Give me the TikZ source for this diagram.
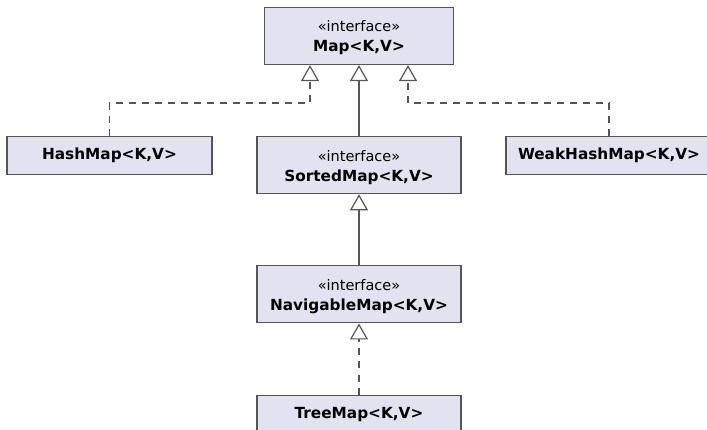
\documentclass[tikz,border=0pt]{standalone}
\usepackage{fontspec}
\setmainfont{DejaVu Sans}
\usetikzlibrary{arrows.meta, positioning}
\definecolor{boxfill}{HTML}{E2E2F0}
\definecolor{boxline}{HTML}{555555}
\newcommand{\iface}[1]{{\fontsize{14.5}{16}\selectfont\rule{0pt}{15pt}«interface»}\\[2pt]{\bfseries #1}}

\begin{document}
\begin{tikzpicture}[x=1pt,y=1pt,node distance=71pt,
    class node/.style={rectangle,draw=boxline,fill=boxfill,line width=1.2pt,minimum width=204pt,minimum height=38pt,inner sep=0pt,align=center,font=\fontsize{15.3}{18}\selectfont},
    iface node/.style={class node,minimum height=57pt},
    extends/.style={draw=boxline,line width=1.2pt,-{Triangle[open,length=16pt,width=18pt]}},
    implements/.style={extends,dash pattern=on 7pt off 6pt}]

    \useasboundingbox (0,0) rectangle (707,-430);

    \node[iface node, minimum width=189pt] (map) at (359,-36) {\iface{Map<K,V>}};
    \node[iface node] (sorted) [below=of map]    {\iface{SortedMap<K,V>}};
    \node[iface node] (nav)    [below=of sorted] {\iface{NavigableMap<K,V>}};
    \node[class node] (tree)   [below=of nav]    {\bfseries TreeMap<K,V>};

    \node[class node, minimum width=205pt, anchor=north] (hash) at (109.5,-136) {\bfseries HashMap<K,V>};
    \node[class node, minimum width=206pt, anchor=north] (weak) at (609,-136)   {\bfseries WeakHashMap<K,V>};

    \draw[implements] (hash.north) -- ++(0,33) -| ([xshift=-49pt]map.south);
    \draw[implements] (weak.north) -- ++(0,33) -| ([xshift=49pt]map.south);
    \draw[extends]    (sorted) -- (map);
    \draw[extends]    (nav) -- (sorted);
    \draw[implements] (tree) -- (nav);
\end{tikzpicture}
\end{document}
